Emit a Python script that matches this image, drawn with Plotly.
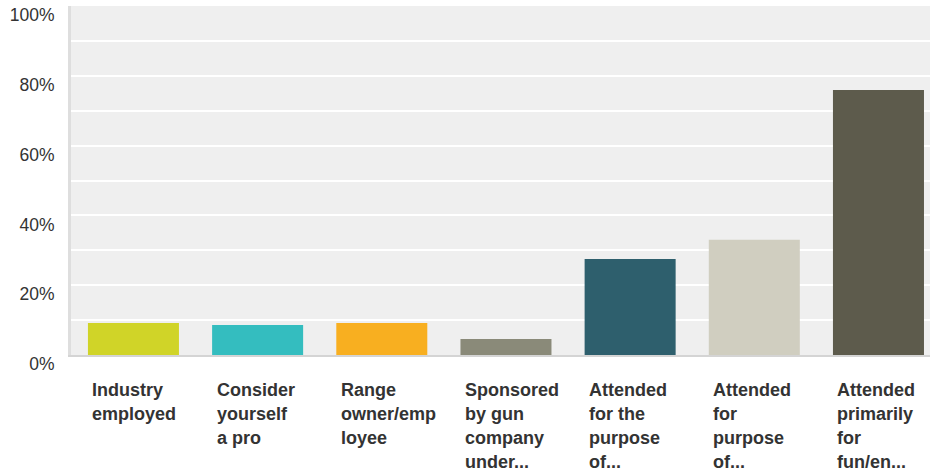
import plotly.graph_objects as go

# ---- data ----
label_lines = [
    ["Industry", "employed"],
    ["Consider", "yourself", "a pro"],
    ["Range", "owner/emp", "loyee"],
    ["Sponsored", "by gun", "company", "under..."],
    ["Attended", "for the", "purpose", "of..."],
    ["Attended", "for", "purpose", "of..."],
    ["Attended", "primarily", "for", "fun/en..."],
]
categories = [" ".join(l) for l in label_lines]
values = [9.2, 8.6, 9.2, 4.6, 27.5, 33.0, 75.9]
colors = ["#D0D428", "#34BDBF", "#F8AF20", "#8A8A79", "#2E5F6D", "#D0CEC0", "#5D5B4C"]
y_tickvals = [0, 20, 40, 60, 80, 100]
y_ticktext = ["0%", "20%", "40%", "60%", "80%", "100%"]

fig = go.Figure(
    go.Bar(
        x=categories,
        y=values,
        marker=dict(color=colors, line=dict(width=0)),
        hoverinfo="skip",
    )
)

annotations = []
for i, lines in enumerate(label_lines):
    for j, line in enumerate(lines):
        annotations.append(dict(
            x=categories[i], xref="x",
            y=0, yref="paper",
            xanchor="left", yanchor="middle",
            xshift=-43, yshift=-35 - 24 * j,
            text=line, showarrow=False,
            font=dict(family="Liberation Sans, Arial, sans-serif", size=18,
                      color="#333333", weight="bold"),
        ))

fig.update_layout(
    width=930, height=474,
    margin=dict(l=71, r=0, t=6, b=119, autoexpand=False),
    paper_bgcolor="white",
    plot_bgcolor="#EFEFEF",
    bargap=0.267,
    showlegend=False,
    annotations=annotations,
    xaxis=dict(
        range=[-0.503, 6.415],
        showticklabels=False,
        showgrid=False,
        zeroline=False,
        showline=True, linecolor="#D4D4D4", linewidth=2,
        ticks="",
        automargin=False,
        fixedrange=True,
    ),
    yaxis=dict(
        range=[0, 100],
        tickvals=y_tickvals,
        ticktext=y_ticktext,
        tickfont=dict(family="Liberation Sans, Arial, sans-serif", size=17.5, color="#333333"),
        showgrid=True, gridcolor="white", gridwidth=2,
        minor=dict(dtick=10, showgrid=True, gridcolor="white", gridwidth=2, ticks=""),
        zeroline=False,
        showline=True, linecolor="#DEDEDE", linewidth=3,
        ticks="",
        ticklabelstandoff=10,
        ticklabelshift=9,
        ticklabeloverflow="allow",
        automargin=False,
        fixedrange=True,
    ),
)

fig.write_html(
    "out.html",
    config={"displayModeBar": False},
    post_script="document.body.style.margin='0';document.body.style.overflow='hidden';",
)
